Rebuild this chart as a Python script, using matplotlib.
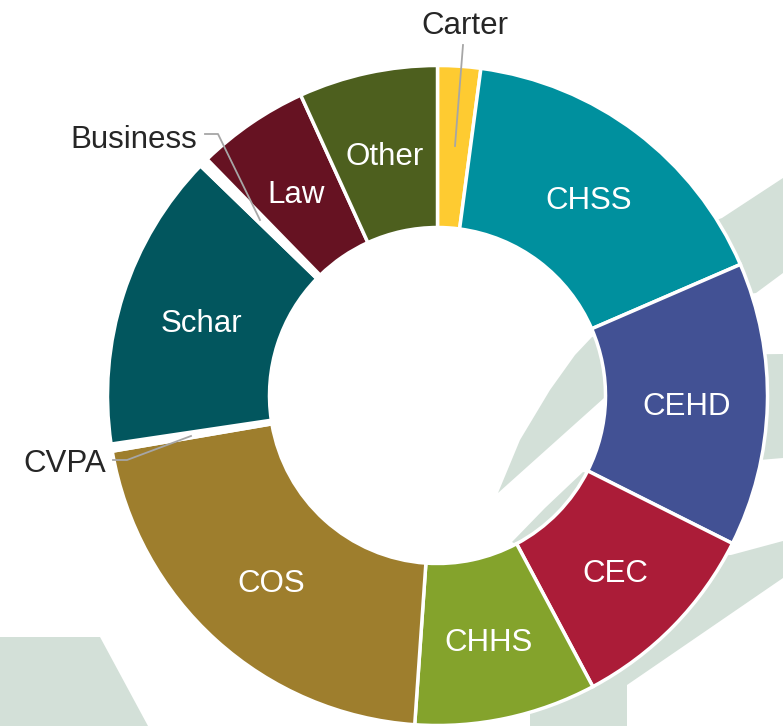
import matplotlib.pyplot as plt
from matplotlib.patches import Polygon

plt.rcParams['font.family'] = ['Liberation Sans', 'DejaVu Sans']

# share of enrollment by college, clockwise from the top
colleges = ['Carter', 'CHSS', 'CEHD', 'CEC', 'CHHS', 'COS', 'CVPA', 'Schar', 'Business', 'Law', 'Other']
shares = [2.1, 16.4, 13.9, 9.8, 8.9, 21.2, 0.35, 14.6, 0.45, 5.5, 6.8]
colors = ['#fecb31', '#00909e', '#425194', '#ab1c38', '#84a32c', '#9e7e2d',
          '#ffffff', '#02565e', '#ffffff', '#661222', '#4d5f1e']

# label positions in pixels (x, y from top)
inside_labels = {'CHSS': (589, 198), 'CEHD': (687, 404), 'CEC': (615, 571),
                 'CHHS': (489, 640), 'COS': (271, 581), 'Schar': (201, 321),
                 'Law': (296, 192), 'Other': (385, 154)}

W, H = 783, 726
bg = '#d3e0d8'
dy = 3  # small nudge so text centres sit like the reference


def flip(pts):
    return [(x, H - y) for x, y in pts]


fig = plt.figure(figsize=(W / 100, H / 100), dpi=100)
ax = fig.add_axes([0, 0, 1, 1])

# decorative background shapes (behind the donut)
shapes = [
    [(0, 637), (100, 637), (148, 726), (0, 726)],
    [(722, 218), (783, 178), (783, 273), (756, 293), (700, 300), (690, 230)],
    [(700, 355), (783, 354), (783, 458), (700, 465)],
    [(731, 555), (783, 541), (783, 578), (627, 685), (627, 726), (530, 726),
     (530, 640), (650, 560)],
    [(498, 493), (520, 440), (550, 390), (575, 355), (592, 337), (640, 330),
     (640, 400), (604, 398)],
    [(512, 542), (545, 508), (583, 472), (620, 480), (560, 570)],
]
for s in shapes:
    ax.add_patch(Polygon(flip(s), closed=True, facecolor=bg, edgecolor='none', zorder=0))

cx, cy = 437.5, H - 395.5
wedges, _ = ax.pie(shares, colors=colors, startangle=90, counterclock=False,
                   radius=330, center=(cx, cy),
                   wedgeprops=dict(width=162, edgecolor='white', linewidth=2.5))
for w in wedges:
    w.set_zorder(2)

for name, (x, y) in inside_labels.items():
    ax.text(x, H - y - dy, name, color='white', fontsize=22.5, ha='center', va='center', zorder=5)

# outside labels with leader lines
lc = '#a6a6a6'
ax.text(465, H - 23 - dy, 'Carter', color='#262626', fontsize=22.5, ha='center', va='center', zorder=5)
ax.plot([463, 455], [H - 45, H - 146], color=lc, lw=1.3, zorder=4)

ax.text(197, H - 137 - dy, 'Business', color='#262626', fontsize=22.5, ha='right', va='center', zorder=5)
ax.plot([205, 218, 260], [H - 134, H - 134, H - 220], color=lc, lw=1.3, zorder=4)

ax.text(106, H - 461 - dy, 'CVPA', color='#262626', fontsize=22.5, ha='right', va='center', zorder=5)
ax.plot([113, 127, 191], [H - 460, H - 460, H - 436], color=lc, lw=1.3, zorder=4)

ax.set_xlim(0, W)
ax.set_ylim(0, H)
ax.set_aspect('equal')
ax.axis('off')

fig.savefig('out.png', dpi=100, facecolor='white')
